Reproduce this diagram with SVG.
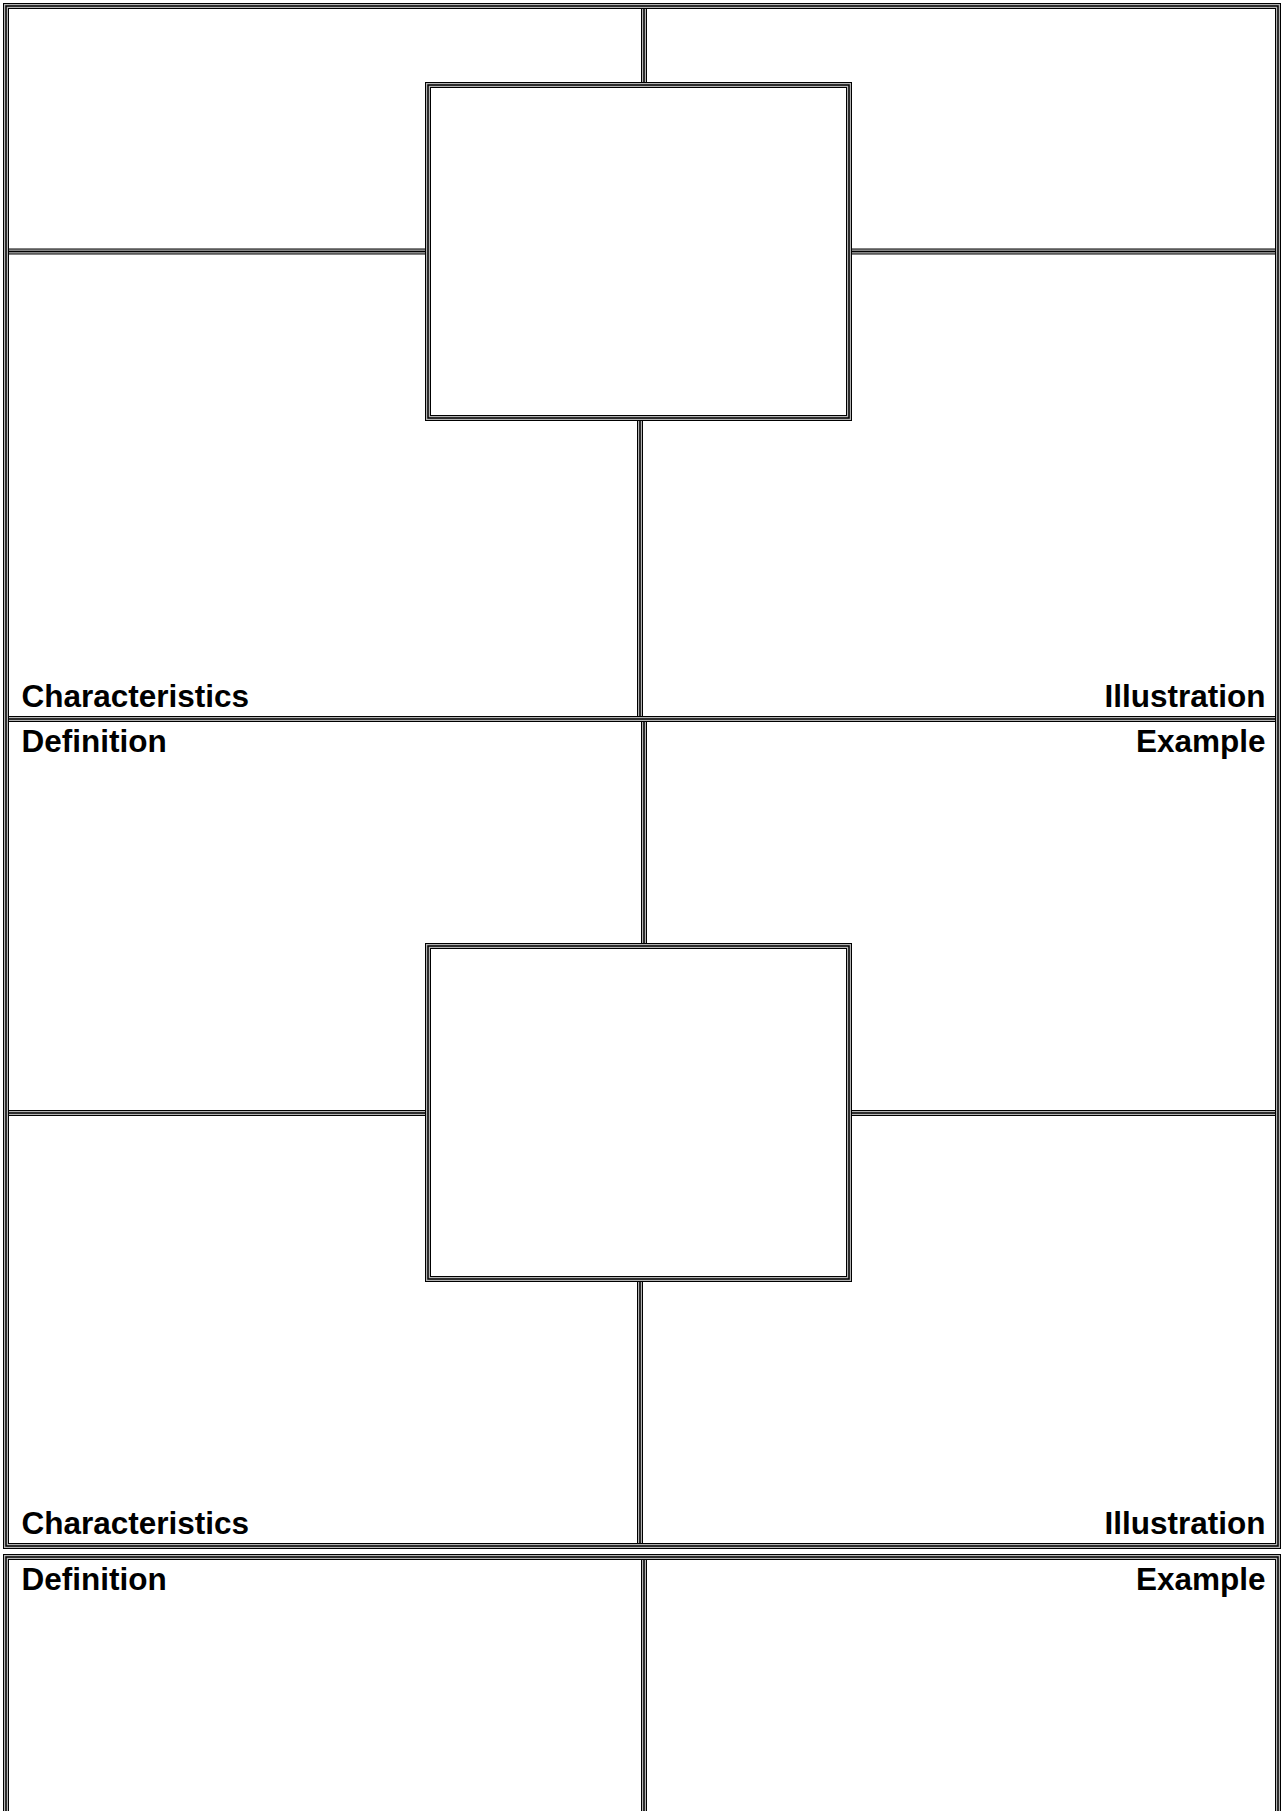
<svg xmlns="http://www.w3.org/2000/svg" width="1281" height="1811" viewBox="0 0 1281 1811">
<style>
.o{fill:none;stroke:#000;stroke-width:6}
.m{fill:none;stroke:#b4b4b4;stroke-width:4}
.i{fill:none;stroke:#000;stroke-width:1.5}
.t{font-family:"Liberation Sans",Arial,sans-serif;font-weight:bold;font-size:31.5px;fill:#000}
.r{text-anchor:end}
</style>
<defs>
<path id="lines" d="M644,6V85 M6,251.5H428 M849,251.5H1278 M640,418V719 M644,719V946 M6,1113H428 M849,1113H1278 M640,1279V1546 M644,1557V1840"/>
<path id="midline" d="M6,719H1278"/>
<rect id="b1" x="428" y="85" width="421" height="333"/>
<rect id="b2" x="428" y="946" width="421" height="333"/>
<rect id="f1" x="6" y="6" width="1272" height="1540"/>
<path id="f2" d="M6,1840V1557H1278V1840"/>
</defs>
<g id="connectors">
<use href="#lines" class="o"/><use href="#lines" class="m"/><use href="#lines" class="i"/>
<use href="#midline" class="o"/><use href="#midline" class="m"/><use href="#midline" class="i"/>
</g>
<g id="frame1">
<use href="#f1" class="o"/><use href="#f1" class="m"/><use href="#f1" class="i"/>
</g>
<g id="frame2">
<use href="#f2" class="o"/><use href="#f2" class="m"/><use href="#f2" class="i"/>
</g>
<g id="box1">
<use href="#b1" class="o"/><use href="#b1" class="m"/><use href="#b1" class="i"/>
</g>
<g id="box2">
<use href="#b2" class="o"/><use href="#b2" class="m"/><use href="#b2" class="i"/>
</g>
<g id="characteristics1"><text class="t" x="21.5" y="707">Characteristics</text></g>
<g id="illustration1"><text class="t r" x="1265.5" y="707">Illustration</text></g>
<g id="definition1"><text class="t" x="21.5" y="752">Definition</text></g>
<g id="example1"><text class="t r" x="1265.5" y="752">Example</text></g>
<g id="characteristics2"><text class="t" x="21.5" y="1534">Characteristics</text></g>
<g id="illustration2"><text class="t r" x="1265.5" y="1534">Illustration</text></g>
<g id="definition2"><text class="t" x="21.5" y="1590">Definition</text></g>
<g id="example2"><text class="t r" x="1265.5" y="1590">Example</text></g>
</svg>
